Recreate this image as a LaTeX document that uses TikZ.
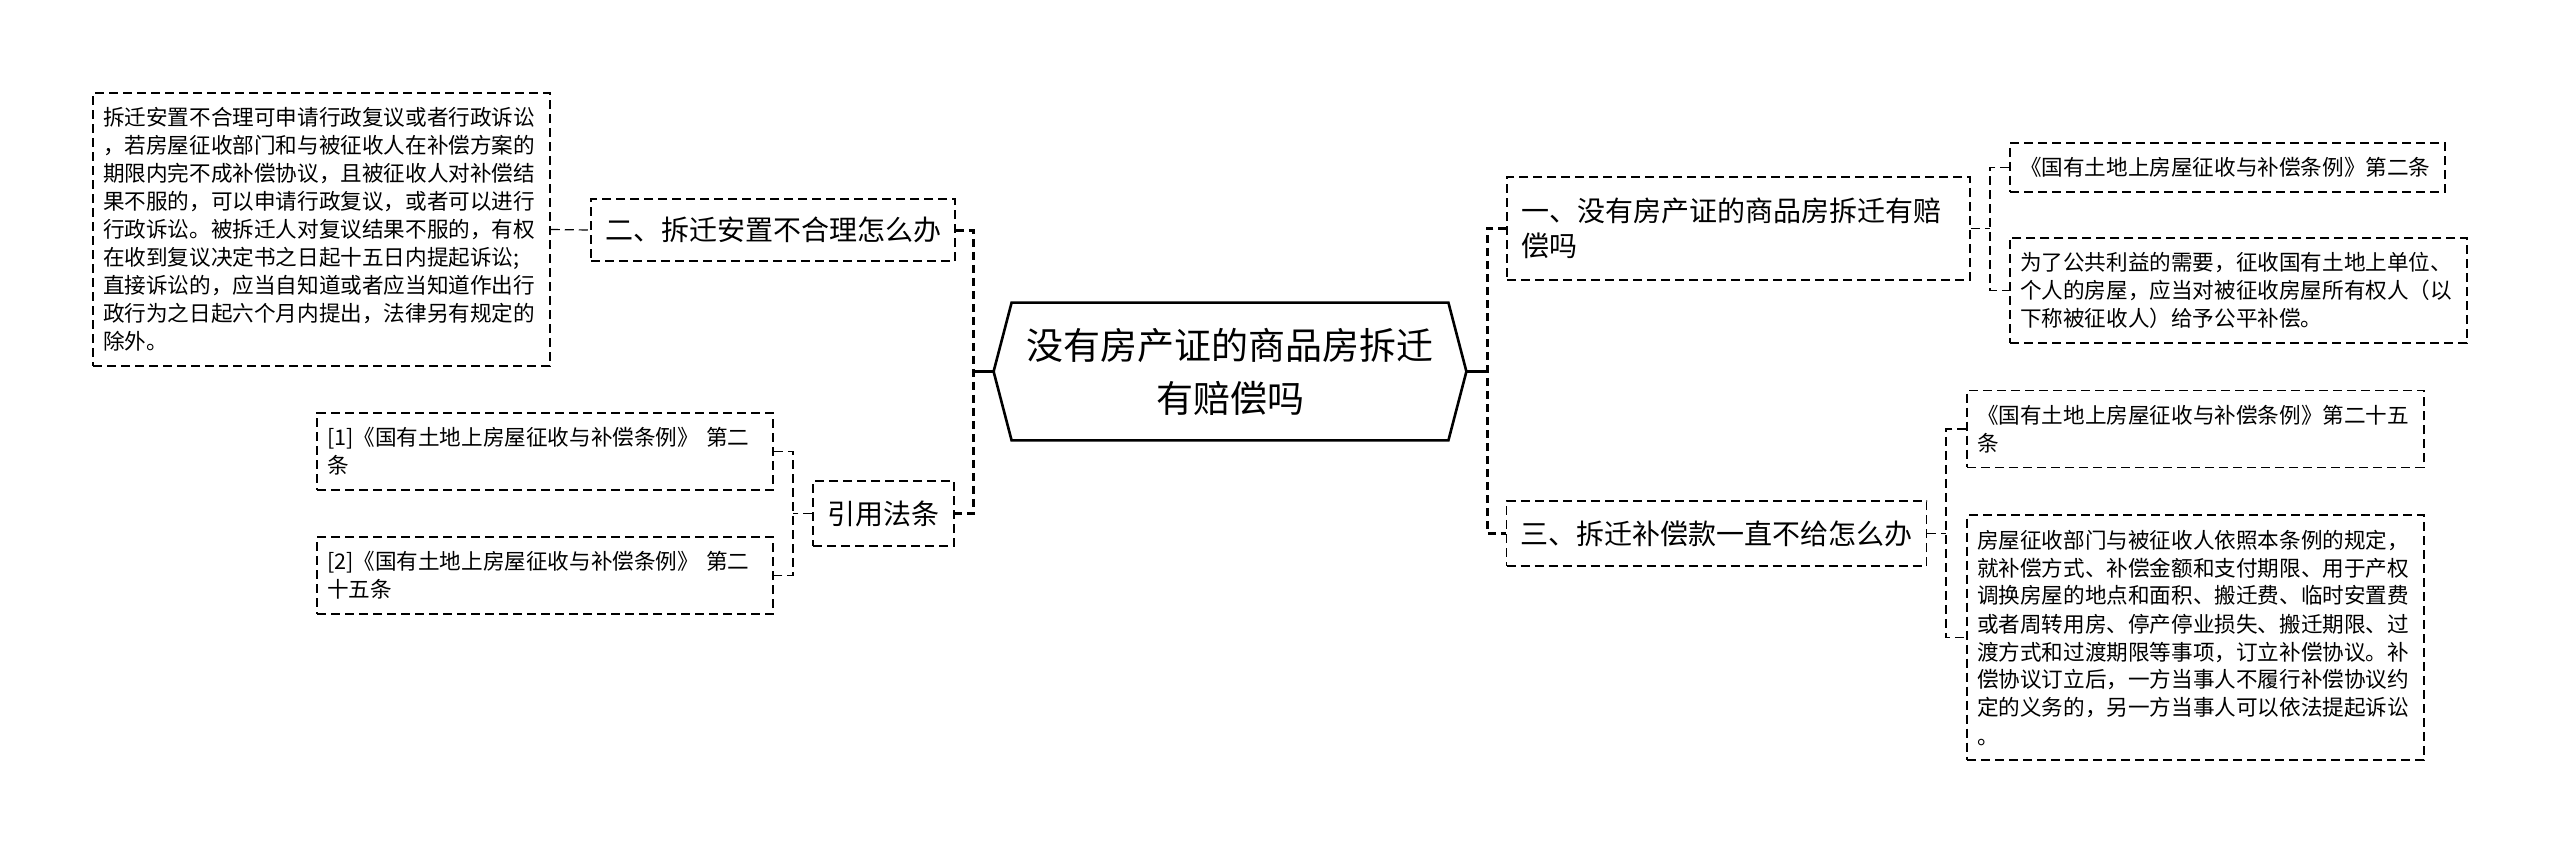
\documentclass[tikz,border=0pt]{standalone}
\usepackage{fontspec}
\setmainfont{Noto Sans CJK SC}

\begin{document}
\begin{tikzpicture}[x=0.5pt, y=-0.5pt,
    box/.style={draw, line width=0.75pt, dash pattern=on 4.5pt off 2.5pt},
    leaf/.style={box, font=\fontsize{10.8pt}{14pt}\selectfont, align=left, inner xsep=5pt, inner ysep=7.25pt},
    branch/.style={box, font=\fontsize{14pt}{17.5pt}\selectfont, align=center, inner xsep=7pt, inner ysep=7pt},
    hub/.style={line width=1.5pt, dash pattern=on 4pt off 2.5pt},
    link/.style={line width=0.6pt, dash pattern=on 4.5pt off 2.5pt}]
    \useasboundingbox (0,0) rectangle (2560,853);

    \node[font=\fontsize{18.5pt}{26.5pt}\selectfont, align=center, minimum width=236pt, minimum height=68.5pt, inner sep=0pt] (C) at (1230,371.5) {没有房产证的商品房拆迁\\有赔偿吗};
    \draw[line width=1.3pt] (C.west) -- ([xshift=9pt]C.north west) -- ([xshift=-9pt]C.north east)
        -- (C.east) -- ([xshift=-9pt]C.south east) -- ([xshift=9pt]C.south west) -- cycle;

    \node[branch, align=left, text width=217.5pt, minimum height=51.5pt] (B1) at (1738.5,228.5) {一、没有房产证的商品房拆迁有赔\\偿吗};
    \node[branch, minimum width=182pt, minimum height=31pt] (B2) at (773,230) {二、拆迁安置不合理怎么办};
    \node[branch, minimum width=209.5pt, minimum height=32.5pt] (B3) at (1716.5,533.5) {三、拆迁补偿款一直不给怎么办};
    \node[branch, minimum width=70.5pt, minimum height=32.5pt] (R) at (883.5,513.5) {引用法条};

    \node[leaf, text width=218.5pt] (L) at (321.5,229.5) {拆迁安置不合理可申请行政复议或者行政诉讼\\，若房屋征收部门和与被征收人在补偿方案的\\期限内完不成补偿协议，且被征收人对补偿结\\果不服的，可以申请行政复议，或者可以进行\\行政诉讼。被拆迁人对复议结果不服的，有权\\在收到复议决定书之日起十五日内提起诉讼;\\直接诉讼的，应当自知道或者应当知道作出行\\政行为之日起六个月内提出，法律另有规定的\\除外。};
    \node[leaf, text width=218pt] (e) at (545,451.5) {[1]《国有土地上房屋征收与补偿条例》 第二\\条};
    \node[leaf, text width=218pt] (f) at (545,575.5) {[2]《国有土地上房屋征收与补偿条例》 第二\\十五条};
    \node[leaf, text width=207.5pt] (a) at (2227.5,167.5) {《国有土地上房屋征收与补偿条例》第二条};
    \node[leaf, text width=218.5pt] (b) at (2238.5,290.5) {为了公共利益的需要，征收国有土地上单位、\\个人的房屋，应当对被征收房屋所有权人（以\\下称被征收人）给予公平补偿。};
    \node[leaf, text width=218.5pt] (c) at (2195.5,429) {《国有土地上房屋征收与补偿条例》第二十五\\条};
    \node[leaf, text width=218.5pt] (d) at (2195.5,637.5) {房屋征收部门与被征收人依照本条例的规定，\\就补偿方式、补偿金额和支付期限、用于产权\\调换房屋的地点和面积、搬迁费、临时安置费\\或者周转用房、停产停业损失、搬迁期限、过\\渡方式和过渡期限等事项，订立补偿协议。补\\偿协议订立后，一方当事人不履行补偿协议约\\定的义务的，另一方当事人可以依法提起诉讼\\。};

    \coordinate (jL) at (973,371.5);
    \coordinate (jR) at (1487,371.5);
    \coordinate (jE) at (793,513.5);
    \coordinate (j1) at (1990,228.5);
    \coordinate (j3) at (1946,533.5);

    \draw[line width=1.3pt] (C.west) -- (jL);
    \draw[line width=1.3pt] (C.east) -- (jR);
    \draw[hub] (B2.east) -| (jL) |- (R.east);
    \draw[hub] (B1.west) -| (jR) |- (B3.west);

    \draw[link] (L.east) -- (B2.west);
    \foreach \from/\to in {R.west/jE, B1.east/j1, B3.east/j3}
        \draw[link] (\from) -- (\to);
    \draw[link] (e.east) -| (jE) |- (f.east);
    \draw[link] (a.west) -| (j1) |- (b.west);
    \draw[link] (c.west) -| (j3) |- (d.west);
\end{tikzpicture}
\end{document}
